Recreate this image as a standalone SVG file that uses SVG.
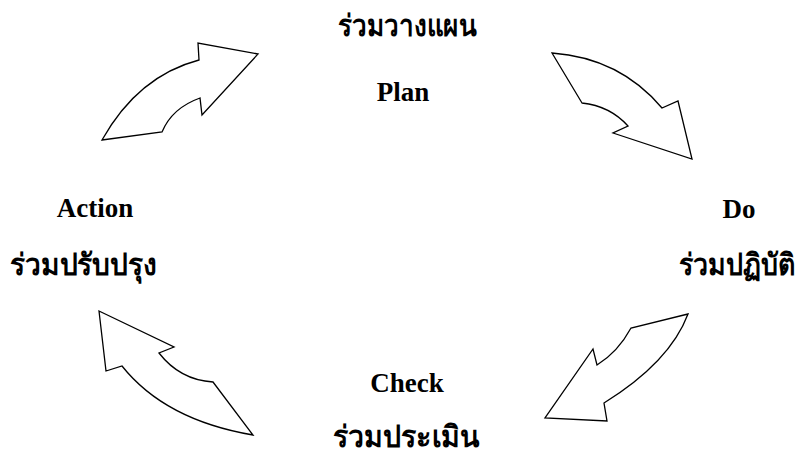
<svg xmlns="http://www.w3.org/2000/svg" width="808" height="452" viewBox="0 0 808 452">
<style>
.arrow{fill:#fff;stroke:#000;stroke-width:1.3;stroke-linejoin:miter}
.en{font-family:"Liberation Serif","Times New Roman",serif;font-weight:bold;font-size:27px;fill:#000;text-anchor:middle}
.th{font-family:"Liberation Serif","Noto Sans","DejaVu Sans",serif;font-weight:bold;font-size:30px;fill:#000;text-anchor:middle}
</style>
<rect width="808" height="452" fill="#fff"/>
<g id="connectors">
<path id="arrow-plan" class="arrow" d="M102,140 L162,132 Q172,108 200,98 L202,115 L258,54 L198,43 L199,60 Q138,76 102,140 Z"/>
<path id="arrow-do" class="arrow" d="M552,53 L582,103 Q610,106 628,126 L613,133 L692,159 L678,101 L662,108 Q620,58 552,53 Z"/>
<path id="arrow-check" class="arrow" d="M688,314 L631,328 Q618,352 597,365 L593,349 L545,418 L607,421 L604,403 Q670,362 688,314 Z"/>
<path id="arrow-action" class="arrow" d="M99,311 L106,371 L122,366 Q165,420 253,435 L213,382 Q180,380 159,353 L174,347 Z"/>
</g>
<g id="plan">
<text class="th" x="407.5" y="36" textLength="139" lengthAdjust="spacingAndGlyphs">ร่วมวางแผน</text>
<text class="en" x="403" y="101">Plan</text>
</g>
<g id="do">
<text class="en" x="739" y="218">Do</text>
<text class="th" x="737" y="275" textLength="116" lengthAdjust="spacingAndGlyphs">ร่วมปฏิบัติ</text>
</g>
<g id="check">
<text class="en" x="407" y="392">Check</text>
<text class="th" x="406.5" y="447" textLength="147" lengthAdjust="spacingAndGlyphs">ร่วมประเมิน</text>
</g>
<g id="action">
<text class="en" x="95" y="217">Action</text>
<text class="th" x="83.5" y="275" textLength="147" lengthAdjust="spacingAndGlyphs">ร่วมปรับปรุง</text>
</g>
</svg>
